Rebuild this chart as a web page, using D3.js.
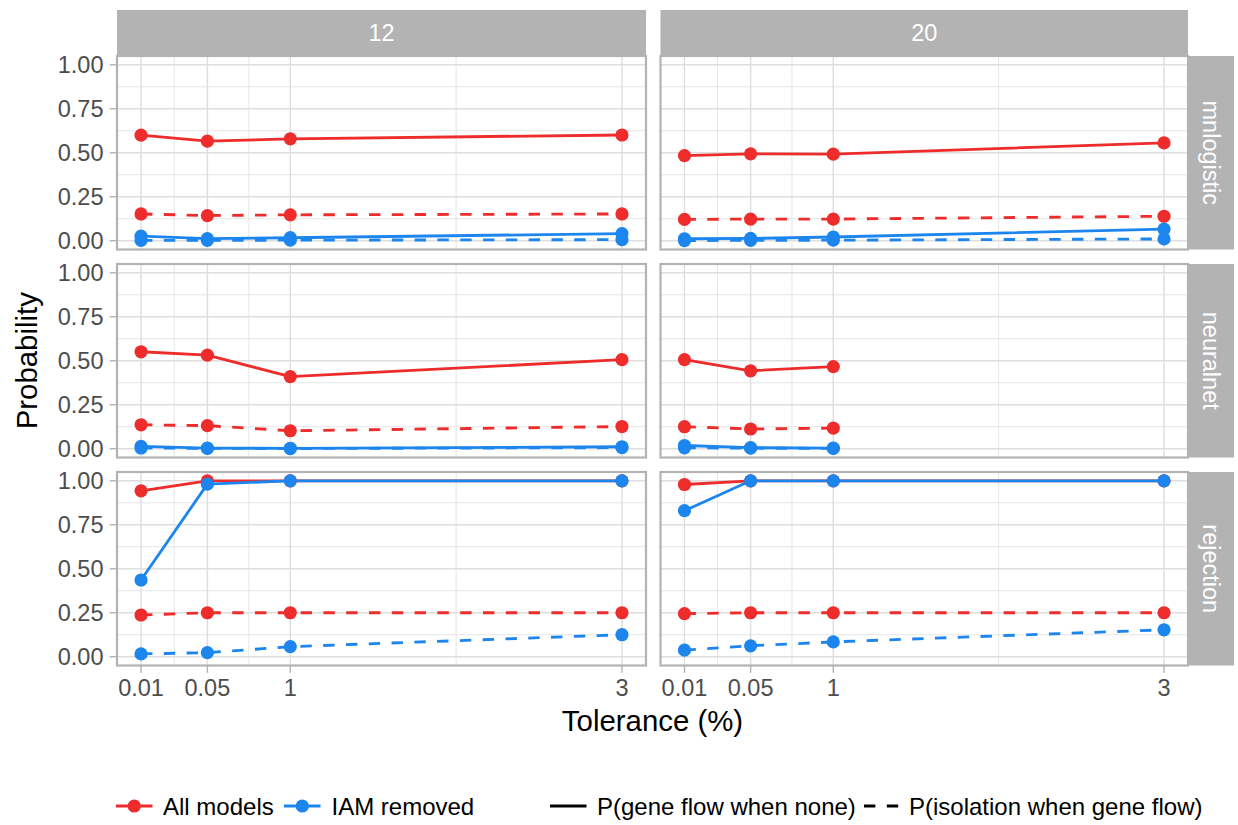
<!DOCTYPE html>
<html>
<head>
<meta charset="utf-8">
<script src="https://cdn.jsdelivr.net/npm/d3@7"></script>
<style>
  html, body { margin: 0; padding: 0; background: #fff; }
  svg { display: block; font-family: "Liberation Sans", Arial, Helvetica, sans-serif; }
</style>
</head>
<body>
<svg id="chart" width="1238" height="825"></svg>
<script>
// ---------------- DATA ----------------
const methods = ["mnlogistic", "neuralnet", "rejection"];
const lociLabels = ["12", "20"];
const groups = ["All models", "IAM removed"];
const measures = ["P(gene flow when none)", "P(isolation when gene flow)"];
const tolerancePos = [0.1, 0.5, 1, 3];           // plotted x values
const toleranceLabels = ["0.01", "0.05", "1", "3"];
const yTicks = [0, 0.25, 0.5, 0.75, 1];
const yTickLabels = ["0.00", "0.25", "0.50", "0.75", "1.00"];

// mnlogistic
const mnlog12_all_gf  = [0.600, 0.566, 0.579, 0.601];
const mnlog12_all_iso = [0.152, 0.143, 0.147, 0.152];
const mnlog12_iam_gf  = [0.026, 0.012, 0.017, 0.040];
const mnlog12_iam_iso = [0.002, 0.002, 0.003, 0.006];
const mnlog20_all_gf  = [0.484, 0.494, 0.492, 0.556];
const mnlog20_all_iso = [0.121, 0.123, 0.123, 0.139];
const mnlog20_iam_gf  = [0.011, 0.013, 0.021, 0.066];
const mnlog20_iam_iso = [0.001, 0.002, 0.003, 0.010];
// neuralnet
const nnet12_all_gf  = [0.551, 0.532, 0.410, 0.506];
const nnet12_all_iso = [0.136, 0.131, 0.102, 0.126];
const nnet12_iam_gf  = [0.013, 0.003, 0.002, 0.011];
const nnet12_iam_iso = [0.004, 0.002, 0.001, 0.006];
const nnet20_all_gf  = [0.506, 0.443, 0.467, null];
const nnet20_all_iso = [0.125, 0.112, 0.117, null];
const nnet20_iam_gf  = [0.018, 0.006, 0.003, null];
const nnet20_iam_iso = [0.005, 0.003, 0.002, null];
// rejection
const rej12_all_gf  = [0.943, 1.000, 1.000, 1.000];
const rej12_all_iso = [0.237, 0.250, 0.250, 0.250];
const rej12_iam_gf  = [0.436, 0.981, 1.000, 1.000];
const rej12_iam_iso = [0.016, 0.023, 0.057, 0.125];
const rej20_all_gf  = [0.979, 1.000, 1.000, 1.000];
const rej20_all_iso = [0.245, 0.250, 0.250, 0.250];
const rej20_iam_gf  = [0.830, 1.000, 1.000, 1.000];
const rej20_iam_iso = [0.037, 0.062, 0.084, 0.153];

// table built from the arrays: [method][loci] -> [group][measure]
const table = {
  mnlogistic: { "12": [[mnlog12_all_gf, mnlog12_all_iso], [mnlog12_iam_gf, mnlog12_iam_iso]],
                "20": [[mnlog20_all_gf, mnlog20_all_iso], [mnlog20_iam_gf, mnlog20_iam_iso]] },
  neuralnet:  { "12": [[nnet12_all_gf, nnet12_all_iso], [nnet12_iam_gf, nnet12_iam_iso]],
                "20": [[nnet20_all_gf, nnet20_all_iso], [nnet20_iam_gf, nnet20_iam_iso]] },
  rejection:  { "12": [[rej12_all_gf, rej12_all_iso], [rej12_iam_gf, rej12_iam_iso]],
                "20": [[rej20_all_gf, rej20_all_iso], [rej20_iam_gf, rej20_iam_iso]] }
};

// ---------------- STYLE / LAYOUT ----------------
const groupColors = ["#EE2C2C", "#1C86EE"];
const dashes = [null, "11.4,11.4"];
const colX = [[117, 646], [660.5, 1188]];
const rowTop0 = 56, rowH = 193.5, rowGap = 14.5;
const stripTop = 10, stripRight = [1188, 1234];
const grey70 = "#B3B3B3", grid = "#DEDEDE", tickText = "#4D4D4D";
const fsSmall = 23.5, fsLegend = 24, fsTitle = 29.4;
const lineW = 2.84, ptR = 6.6;

const svg = d3.select("#chart");
svg.append("rect").attr("width", 1238).attr("height", 825).attr("fill", "#fff");

const xDom = [d3.min(tolerancePos), d3.max(tolerancePos)];
const xPad = (xDom[1] - xDom[0]) * 0.05;
const xMinor = [];
for (let i = 0; i < tolerancePos.length - 1; i++) xMinor.push((tolerancePos[i] + tolerancePos[i + 1]) / 2);
const yMinor = [0.125, 0.375, 0.625, 0.875];

methods.forEach((m, ri) => {
  const top = rowTop0 + ri * (rowH + rowGap), bot = top + rowH;
  const y = d3.scaleLinear().domain([-0.05, 1.05]).range([bot, top]);
  lociLabels.forEach((L, ci) => {
    const [x0, x1] = colX[ci];
    const x = d3.scaleLinear().domain([xDom[0] - xPad, xDom[1] + xPad]).range([x0, x1]);
    const g = svg.append("g");
    const clipId = `clip-${ri}-${ci}`;
    svg.append("clipPath").attr("id", clipId).append("rect")
      .attr("x", x0).attr("y", top).attr("width", x1 - x0).attr("height", bot - top);
    g.attr("clip-path", `url(#${clipId})`);
    // minor grid
    g.selectAll(".ymin").data(yMinor).join("line")
      .attr("x1", x0).attr("x2", x1).attr("y1", d => y(d)).attr("y2", d => y(d))
      .attr("stroke", grid).attr("stroke-width", 0.75);
    g.selectAll(".xmin").data(xMinor).join("line")
      .attr("y1", top).attr("y2", bot).attr("x1", d => x(d)).attr("x2", d => x(d))
      .attr("stroke", grid).attr("stroke-width", 0.75);
    // major grid
    g.selectAll(".ymaj").data(yTicks).join("line")
      .attr("x1", x0).attr("x2", x1).attr("y1", d => y(d)).attr("y2", d => y(d))
      .attr("stroke", grid).attr("stroke-width", 1.42);
    g.selectAll(".xmaj").data(tolerancePos).join("line")
      .attr("y1", top).attr("y2", bot).attr("x1", d => x(d)).attr("x2", d => x(d))
      .attr("stroke", grid).attr("stroke-width", 1.42);

    const series = table[m][L];
    const line = d3.line().defined(d => d.v != null).x(d => x(d.x)).y(d => y(d.v));
    // lines
    groups.forEach((gr, gi) => {
      measures.forEach((ms, mi) => {
        const pts = tolerancePos.map((xv, k) => ({ x: xv, v: series[gi][mi][k] }));
        g.append("path").datum(pts).attr("d", line)
          .attr("fill", "none").attr("stroke", groupColors[gi])
          .attr("stroke-width", lineW).attr("stroke-dasharray", dashes[mi])
          .attr("stroke-linejoin", "round");
      });
    });
    // points
    groups.forEach((gr, gi) => {
      measures.forEach((ms, mi) => {
        const pts = tolerancePos.map((xv, k) => ({ x: xv, v: series[gi][mi][k] })).filter(d => d.v != null);
        g.selectAll(null).data(pts).join("circle")
          .attr("cx", d => x(d.x)).attr("cy", d => y(d.v)).attr("r", ptR)
          .attr("fill", groupColors[gi]);
      });
    });
    // border
    svg.append("rect").attr("x", x0).attr("y", top).attr("width", x1 - x0).attr("height", bot - top)
      .attr("fill", "none").attr("stroke", grey70).attr("stroke-width", 2.2);

    // y axis on first column
    if (ci === 0) {
      yTicks.forEach((t, k) => {
        svg.append("line").attr("x1", x0 - 7.3).attr("x2", x0).attr("y1", y(t)).attr("y2", y(t))
          .attr("stroke", grey70).attr("stroke-width", 1.42);
        svg.append("text").attr("x", x0 - 13.5).attr("y", y(t)).attr("dy", "0.36em")
          .attr("text-anchor", "end").attr("font-size", fsSmall).attr("fill", tickText)
          .text(yTickLabels[k]);
      });
    }
    // x axis on last row
    if (ri === methods.length - 1) {
      tolerancePos.forEach((t, k) => {
        svg.append("line").attr("x1", x(t)).attr("x2", x(t)).attr("y1", bot).attr("y2", bot + 7.3)
          .attr("stroke", grey70).attr("stroke-width", 1.42);
        svg.append("text").attr("x", x(t)).attr("y", bot + 30.5)
          .attr("text-anchor", "middle").attr("font-size", fsSmall).attr("fill", tickText)
          .text(toleranceLabels[k]);
      });
    }
    // top strips
    if (ri === 0) {
      svg.append("rect").attr("x", x0).attr("y", stripTop).attr("width", x1 - x0).attr("height", top - stripTop)
        .attr("fill", grey70);
      svg.append("text").attr("x", (x0 + x1) / 2).attr("y", (stripTop + top) / 2).attr("dy", "0.36em")
        .attr("text-anchor", "middle").attr("font-size", fsSmall).attr("fill", "#fff").text(L);
    }
  });
  // right strips
  svg.append("rect").attr("x", stripRight[0]).attr("y", top).attr("width", stripRight[1] - stripRight[0])
    .attr("height", bot - top).attr("fill", grey70);
  const cx = (stripRight[0] + stripRight[1]) / 2, cy = (top + bot) / 2;
  svg.append("text").attr("transform", `translate(${cx},${cy}) rotate(90)`).attr("dy", "0.36em")
    .attr("text-anchor", "middle").attr("font-size", fsSmall).attr("fill", "#fff").text(m);
});

// axis titles
svg.append("text").attr("x", (colX[0][0] + colX[1][1]) / 2).attr("y", 731)
  .attr("text-anchor", "middle").attr("font-size", fsTitle).attr("fill", "#000").text("Tolerance (%)");
const yMid = (rowTop0 + rowTop0 + 3 * rowH + 2 * rowGap) / 2;
svg.append("text").attr("transform", `translate(37,${yMid}) rotate(-90)`)
  .attr("text-anchor", "middle").attr("font-size", fsTitle).attr("fill", "#000").text("Probability");

// legend
const legY = 806;
const legItems = [
  { kx: 116, tx: 163, label: groups[0], color: groupColors[0], dash: null, point: true },
  { kx: 284, tx: 331.5, label: groups[1], color: groupColors[1], dash: null, point: true },
  { kx: 550, tx: 597, label: measures[0], color: "#000", dash: dashes[0], point: false },
  { kx: 864, tx: 909, label: measures[1], color: "#000", dash: dashes[1], point: false }
];
const keyW = 36.5;
legItems.forEach(it => {
  svg.append("line").attr("x1", it.kx).attr("x2", it.kx + keyW).attr("y1", legY).attr("y2", legY)
    .attr("stroke", it.color).attr("stroke-width", lineW).attr("stroke-dasharray", it.dash);
  if (it.point) svg.append("circle").attr("cx", it.kx + keyW / 2).attr("cy", legY).attr("r", ptR).attr("fill", it.color);
  svg.append("text").attr("x", it.tx).attr("y", legY).attr("dy", "0.36em")
    .attr("font-size", fsLegend).attr("fill", "#000").text(it.label);
});
</script>
</body>
</html>
